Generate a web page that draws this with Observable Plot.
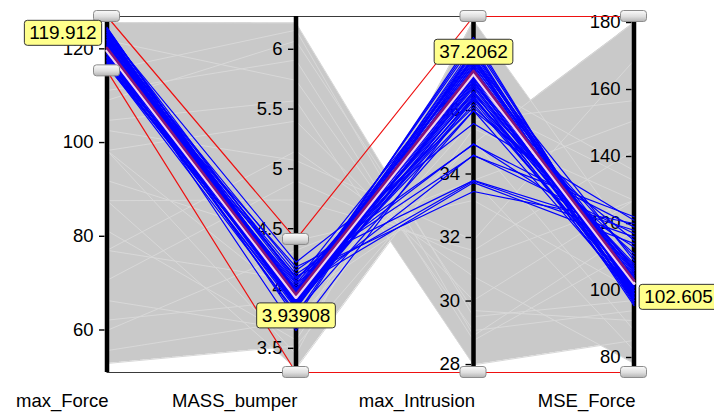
<!DOCTYPE html>
<html>
<head>
<meta charset="utf-8">
<script src="https://cdn.jsdelivr.net/npm/d3@7"></script>
<script src="https://cdn.jsdelivr.net/npm/@observablehq/plot@0.6"></script>
<style>
html, body { margin: 0; padding: 0; background: #ffffff; }
#chart svg { display: block; }
</style>
</head>
<body>
<div id="chart"></div>
<script>
// ---------- data ----------
const dimensions = ["max_Force", "MASS_bumper", "max_Intrusion", "MSE_Force"];
const extentForce = [50.93, 126.9];
const extentMass = [3.298, 6.274];
const extentIntrusion = [27.75, 38.96];
const extentMSE = [75.52, 181.8];

const ticksForce = [60, 80, 100, 120];
const ticksMass = [3.5, 4, 4.5, 5, 5.5, 6];
const ticksIntrusion = [28, 30, 32, 34, 36];
const ticksMSE = [80, 100, 120, 140, 160, 180];

const brushLow = [115.3, 3.298, 27.75, 75.52];
const brushHigh = [126.9, 4.41, 38.96, 181.8];

const highlighted = [119.912, 3.93908, 37.2062, 102.605];

// selected (blue) designs
const selForce = [124.6,124.2,123.9,123.5,123.2,123.0,122.7,122.4,122.1,121.8,121.5,121.2,120.9,120.6,120.3,120.0,119.6,119.3,119.0,118.7,118.4,118.1,117.8,117.5,117.2,116.9,116.6,124.0,121.0,119.8,122.8,118.9,123.5,122.0,120.5,119.2,121.7,118.0,117.4,124.3,120.2,116.3,
  124.4,123.7,123.1,122.5,121.9,121.3,120.7,120.1,119.4,118.8,118.2,117.6,117.0,116.5];
const selMass = [3.90,3.95,3.88,3.92,3.86,3.98,3.90,3.94,3.84,4.00,3.91,3.87,3.96,3.93,4.02,3.89,3.95,3.85,3.99,3.92,3.88,4.04,3.94,3.83,3.97,3.90,3.80,4.06,3.75,3.65,4.08,3.78,4.22,4.15,4.12,4.18,4.05,4.10,4.00,3.96,4.09,3.93,
  3.93,3.89,3.95,3.87,3.92,3.98,3.86,3.94,3.90,3.96,3.88,3.91,3.85,3.97];
const selIntrusion = [38.30,38.10,38.00,37.90,37.80,37.70,37.60,37.50,37.45,37.40,37.30,37.20,37.10,37.00,36.90,36.80,36.70,36.60,36.50,36.40,36.30,37.00,36.90,37.30,36.60,36.20,36.00,37.60,37.90,36.40,36.10,37.70,35.59,34.93,34.58,33.80,33.78,33.45,33.73,34.60,34.95,36.00,
  38.20,37.85,37.65,37.55,37.35,37.15,36.95,36.75,36.55,36.35,37.25,36.85,36.45,37.05];
const selMSE = [98.0,100.0,97.0,101.0,99.0,103.0,96.0,104.0,100.0,106.0,102.0,98.0,105.0,101.0,107.0,99.0,103.0,97.0,108.0,104.0,100.0,110.0,102.0,95.5,106.0,101.0,99.0,109.0,96.5,98.0,111.0,97.0,121.0,119.0,122.0,118.0,116.0,120.0,114.0,117.0,113.0,115.0,
  99.0,102.0,97.5,103.0,100.5,105.5,98.5,104.5,101.5,107.5,100.0,103.5,99.5,106.5];

// other (grey) designs
const othForce = [125.6,98.3,87.6,104.7,52.85,98.3,77.0,111.1,66.3,87.6,59.9,77.0,98.3,121.8,55.6,70.6,91.9,109.0,81.2,62.1,102.6,115.4];
const othMass = [6.22,3.45,3.33,5.57,3.52,3.90,5.15,5.91,3.65,4.74,4.32,4.07,5.40,5.74,3.73,4.90,4.40,6.07,3.57,3.90,5.07,6.16];
const othIntrusion = [29.51,38.83,35.43,27.99,35.06,34.96,30.77,28.76,37.57,31.59,33.80,36.31,30.02,29.07,35.69,31.28,33.17,29.70,36.94,33.80,31.91,28.91];
const othMSE = [97.0,113.7,126.9,85.1,88.1,180.0,78.2,111.9,103.0,141.8,150.7,132.8,126.9,94.0,156.7,126.9,100.0,91.0,135.8,82.1,168.7,117.9];

// ---------- layout (not data) ----------
const axisOffset = [0, 189, 366.5, 527];
const labelOffsets = [[-44, -16], [0, 20], [0, -20], [44.5, 15.5]];

// ---------- derived ----------
const extents = [extentForce, extentMass, extentIntrusion, extentMSE];
const tickSets = [ticksForce, ticksMass, ticksIntrusion, ticksMSE];
const norm = extents.map(e => d3.scaleLinear(e, [0, 1]));

function toRows(cols, idPrefix) {
  const rows = [];
  const n = cols[0].length;
  for (let j = 0; j < n; j++) {
    for (let i = 0; i < 4; i++) rows.push({id: idPrefix + j, dim: i, x: axisOffset[i], y: norm[i](cols[i][j])});
  }
  return rows;
}
const blueRows = toRows([selForce, selMass, selIntrusion, selMSE], "s");
const grayRows = toRows([othForce, othMass, othIntrusion, othMSE], "o");
const hlRows = highlighted.map((v, i) => ({x: axisOffset[i], y: norm[i](v), value: v, dim: i}));

// envelope of all design lines (grey band)
const allLines = [];
for (const rows of [blueRows, grayRows]) {
  const g = d3.group(rows, d => d.id);
  for (const [, r] of g) allLines.push(r.map(d => d.y));
}
allLines.push(hlRows.map(d => d.y));
const envelope = [];
const N = 160;
for (let s = 0; s < 3; s++) {
  for (let k = (s === 0 ? 0 : 1); k <= N; k++) {
    const t = k / N;
    let lo = Infinity, hi = -Infinity;
    for (const L of allLines) {
      const v = L[s] * (1 - t) + L[s + 1] * t;
      if (v < lo) lo = v;
      if (v > hi) hi = v;
    }
    envelope.push({x: axisOffset[s] + t * (axisOffset[s + 1] - axisOffset[s]), lo, hi});
  }
}

const tickRows = [];
tickSets.forEach((ts, i) => ts.forEach(t => tickRows.push({x: axisOffset[i], y: norm[i](t), label: String(t)})));
const axisRows = dimensions.map((d, i) => ({x: axisOffset[i], name: d}));
const brushRows = [];
brushHigh.forEach((v, i) => brushRows.push({edge: "high", x: axisOffset[i], y: norm[i](v)}));
brushLow.forEach((v, i) => brushRows.push({edge: "low", x: axisOffset[i], y: norm[i](v)}));
const handleRows = brushRows.map(d => ({x: d.x, y: d.y}));

const FONT = "'Liberation Sans', Arial, Helvetica, sans-serif";

const valueLabels = hlRows.map((d, i) => Plot.text([d], {
  x: "x", y: "y", text: d => String(d.value),
  dx: labelOffsets[i][0], dy: labelOffsets[i][1],
  textAnchor: "middle", fontSize: 19, fill: "#000",
  ariaDescription: "value-label"
}));

const chart = Plot.plot({
  width: 714,
  height: 417,
  marginLeft: 106.5,
  marginRight: 80.5,
  marginTop: 16,
  marginBottom: 45,
  x: {domain: [0, 527], axis: null},
  y: {domain: [0, 1], axis: null},
  style: {fontFamily: FONT, background: "#ffffff", overflow: "visible", color: "#000"},
  marks: [
    Plot.areaY(envelope, {x: "x", y1: "lo", y2: "hi", fill: "#c9c9c9"}),
    Plot.line(grayRows, {x: "x", y: "y", z: "id", stroke: "#d8d8d8", strokeWidth: 1}),
    Plot.frame({stroke: "#3a3a3a", strokeWidth: 1}),
    Plot.ruleY(tickRows, {y: "y", x1: "x", x2: "x", insetLeft: -7.5, insetRight: 2, stroke: "#000", strokeWidth: 1.4}),
    Plot.text(tickRows, {x: "x", y: "y", text: "label", textAnchor: "end", dx: -13.5, fontSize: 18.5, fill: "#000"}),
    Plot.ruleX(axisRows, {x: "x", stroke: "#000", strokeWidth: 4.5}),
    Plot.line(blueRows, {x: "x", y: "y", z: "id", stroke: "#0000ff", strokeWidth: 1.2}),
    Plot.line(hlRows, {x: "x", y: "y", stroke: "#f2d4ef", strokeWidth: 3.2, dy: 1.6}),
    Plot.line(hlRows, {x: "x", y: "y", stroke: "#86137c", strokeWidth: 2.6, dy: -1.3}),
    Plot.line(brushRows, {x: "x", y: "y", z: "edge", stroke: "#ee1111", strokeWidth: 1.2}),
    Plot.rect(handleRows, {x1: "x", x2: "x", y1: "y", y2: "y", insetLeft: -13, insetRight: -13, insetTop: -5.5, insetBottom: -5.5, rx: 3, fill: "url(#handleGrad)", stroke: "#8c8c8c", strokeWidth: 1}),
    ...valueLabels,
    Plot.text(axisRows, {x: "x", text: "name", frameAnchor: "bottom", textAnchor: "end", dx: 1.5, dy: 34, fontSize: 18.5, fill: "#000"})
  ]
});

document.getElementById("chart").append(chart);

// gradient for the brush handles and boxes for the value labels
const svg = d3.select(chart.tagName.toLowerCase() === "svg" ? chart : chart.querySelector("svg"));
svg.insert("defs", ":first-child").html(
  '<linearGradient id="handleGrad" x1="0" y1="0" x2="0" y2="1">' +
  '<stop offset="0" stop-color="#fbfbfb"/><stop offset="0.55" stop-color="#dedede"/><stop offset="1" stop-color="#b4b4b4"/>' +
  '</linearGradient>'
);
svg.selectAll('g[aria-description="value-label"] text').each(function () {
  const b = this.getBBox();
  const r = document.createElementNS("http://www.w3.org/2000/svg", "rect");
  const h = 25;
  r.setAttribute("x", b.x - 5);
  r.setAttribute("y", b.y + b.height / 2 - h / 2);
  r.setAttribute("width", b.width + 10);
  r.setAttribute("height", h);
  r.setAttribute("rx", 3);
  r.setAttribute("fill", "#ffff8c");
  r.setAttribute("stroke", "#333333");
  r.setAttribute("stroke-width", 1);
  const tr = this.getAttribute("transform");
  if (tr) r.setAttribute("transform", tr);
  this.parentNode.insertBefore(r, this);
});
</script>
</body>
</html>
